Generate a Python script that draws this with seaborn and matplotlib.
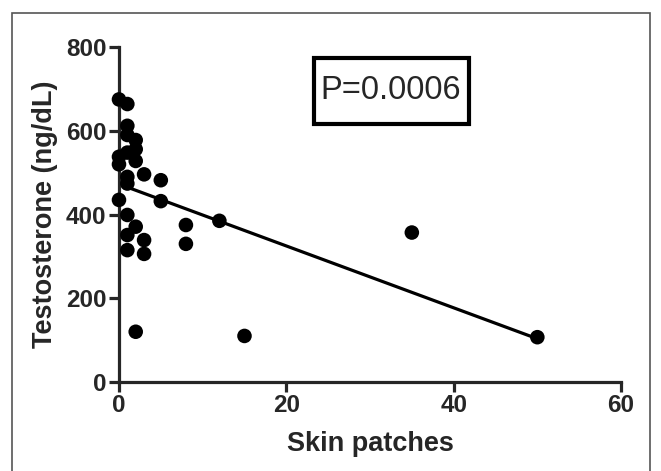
import numpy as np
import pandas as pd
import matplotlib
matplotlib.use('Agg')
import matplotlib.pyplot as plt
import seaborn as sns
from matplotlib.patches import Rectangle

sns.set_style('ticks')
plt.rcParams['font.family'] = ['Liberation Sans Narrow', 'Liberation Sans', 'DejaVu Sans']

# 피부 패치 수 vs 테스토스테론
skin_patches = [0, 0, 0, 0,
                1, 1, 1, 1, 1, 1, 1, 1, 1,
                2, 2, 2, 2, 2,
                3, 3, 3,
                5, 5,
                8, 8,
                12, 15, 35, 50]
testosterone = [675, 538, 520, 435,
                664, 612, 590, 548, 490, 474, 399, 351, 315,
                578, 556, 528, 371, 120,
                496, 339, 306,
                482, 432,
                375, 330,
                385, 110, 357, 107]
p_text = 'P=0.0006'

df = pd.DataFrame({'Skin patches': skin_patches, 'Testosterone': testosterone})

fig = plt.figure(figsize=(6.61, 4.71), dpi=100)
ax = fig.add_axes([0.18, 0.189, 0.7595, 0.711])

sns.scatterplot(data=df, x='Skin patches', y='Testosterone', ax=ax,
                color='black', s=110, edgecolor='none', zorder=3, clip_on=False)

# 선형회귀 직선
slope, inter = np.polyfit(df['Skin patches'], df['Testosterone'], 1)
xs = np.array([df['Skin patches'].min(), df['Skin patches'].max()])
sns.lineplot(x=xs, y=slope * xs + inter, ax=ax, color='black', lw=2.3)

ax.set_xlim(0, 60)
ax.set_ylim(0, 800)
ax.set_xticks([0, 20, 40, 60])
ax.set_yticks([0, 200, 400, 600, 800])
ax.spines['top'].set_visible(False)
ax.spines['right'].set_visible(False)
for s in ['left', 'bottom']:
    ax.spines[s].set_linewidth(2.3)
ax.tick_params(width=2.3, length=7, labelsize=17.5, pad=2)
for lab in ax.get_xticklabels() + ax.get_yticklabels():
    lab.set_fontweight('bold')

ax.set_xlabel('Skin patches', fontsize=19.5, fontweight='bold', labelpad=10)
ax.set_ylabel('Testosterone (ng/dL)', fontsize=19.5, fontweight='bold', labelpad=6)

# P값 상자
ax.add_patch(Rectangle((0.388, 0.77), 0.309, 0.198, transform=ax.transAxes,
                       fill=True, fc='white', ec='black', lw=3, clip_on=False, zorder=4))
ax.text(0.542, 0.869, p_text, transform=ax.transAxes, ha='center', va='center',
        fontsize=23.5, family=['Liberation Sans', 'DejaVu Sans'], zorder=5)

# 바깥 테두리
fig.patches.append(Rectangle((12 / 661, -0.05), 638 / 661, 1.05 - 13 / 471,
                             transform=fig.transFigure, fill=False,
                             ec='#555555', lw=1.2))

fig.savefig('out.png', dpi=100)
